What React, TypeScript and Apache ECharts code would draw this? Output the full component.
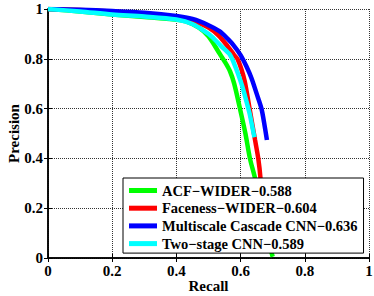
import React, { useEffect, useRef } from "react";
import * as echarts from "echarts";

const seriesNames = [
  "ACF\u2212WIDER\u22120.588",
  "Faceness\u2212WIDER\u22120.604",
  "Multiscale Cascade CNN\u22120.636",
  "Two\u2212stage CNN\u22120.589",
];
const seriesColors = ["#00ff00", "#ff0000", "#0000ff", "#00ffff"];

const acfRecall = [0, 0.1, 0.2, 0.3, 0.4, 0.43, 0.47, 0.5, 0.535, 0.55, 0.567, 0.58, 0.598, 0.615, 0.629, 0.645, 0.66, 0.675, 0.69, 0.7];
const acfPrecision = [1, 0.99, 0.978, 0.968, 0.957, 0.95, 0.925, 0.89, 0.82, 0.79, 0.75, 0.7, 0.6, 0.5, 0.4, 0.32, 0.22, 0.13, 0.05, 0.005];

const facenessRecall = [0, 0.1, 0.2, 0.3, 0.4, 0.45, 0.5, 0.53, 0.56, 0.58, 0.59, 0.603, 0.613, 0.628, 0.645, 0.655, 0.662, 0.668];
const facenessPrecision = [1, 0.996, 0.99, 0.982, 0.968, 0.955, 0.925, 0.895, 0.85, 0.815, 0.8, 0.756, 0.709, 0.6, 0.474, 0.4, 0.32, 0.2];

const mscnnRecall = [0, 0.1, 0.2, 0.3, 0.4, 0.45, 0.5, 0.535, 0.56, 0.577, 0.6, 0.618, 0.634, 0.65, 0.665, 0.675, 0.682];
const mscnnPrecision = [1, 0.997, 0.992, 0.985, 0.972, 0.96, 0.935, 0.91, 0.88, 0.856, 0.815, 0.77, 0.722, 0.66, 0.6, 0.53, 0.474];

const twoStageRecall = [0, 0.1, 0.2, 0.3, 0.4, 0.45, 0.5, 0.515, 0.54, 0.567, 0.58, 0.592, 0.605, 0.618, 0.628, 0.636, 0.643];
const twoStagePrecision = [1, 0.99, 0.978, 0.97, 0.958, 0.94, 0.9, 0.883, 0.85, 0.816, 0.78, 0.74, 0.69, 0.63, 0.58, 0.53, 0.485];

const FONT = "'Liberation Serif', 'Times New Roman', serif";

function pairs(xs: number[], ys: number[]) {
  return xs.map((x, i) => [x, ys[i]]);
}

export default function App() {
  const ref = useRef<HTMLDivElement>(null);
  useEffect(() => {
    if (!ref.current) return;
    const chart = echarts.init(ref.current, undefined, { renderer: "svg" });
    const datasets = [
      pairs(acfRecall, acfPrecision),
      pairs(facenessRecall, facenessPrecision),
      pairs(mscnnRecall, mscnnPrecision),
      pairs(twoStageRecall, twoStagePrecision),
    ];
    const axisLine = { show: true, lineStyle: { color: "#000", width: 1.5 } };
    const axisTick = { show: true, inside: true, length: 4, lineStyle: { color: "#000", width: 1 } };
    const splitLine = { show: true, lineStyle: { color: "#333", type: "dotted", width: 1 } };
    const labelStyle = { fontFamily: FONT, fontWeight: "bold", fontSize: 15, color: "#000" };
    chart.setOption({
      animation: false,
      backgroundColor: "#fff",
      grid: { left: 48, right: 5, top: 9, bottom: 38, containLabel: false, outerBoundsMode: "none" },
      xAxis: [
        {
          type: "value", min: 0, max: 1, interval: 0.2, position: "bottom",
          axisLine, axisTick, splitLine,
          axisLabel: { ...labelStyle, margin: 5 },
          name: "Recall", nameLocation: "middle", nameGap: 20, nameMoveOverlap: false,
          nameTextStyle: { ...labelStyle },
        },
        {
          type: "value", min: 0, max: 1, interval: 0.2, position: "top",
          axisLine, axisTick, splitLine: { show: false }, axisLabel: { show: false },
        },
      ],
      yAxis: [
        {
          type: "value", min: 0, max: 1, interval: 0.2, position: "left",
          axisLine, axisTick, splitLine,
          axisLabel: { ...labelStyle, margin: 5 },
          name: "Precision", nameLocation: "middle", nameGap: 27, nameMoveOverlap: false,
          nameTextStyle: { ...labelStyle },
        },
        {
          type: "value", min: 0, max: 1, interval: 0.2, position: "right",
          axisLine, axisTick, splitLine: { show: false }, axisLabel: { show: false },
        },
      ],
      legend: {
        orient: "vertical",
        left: 123,
        top: 178,
        backgroundColor: "#fff",
        borderColor: "#000",
        borderWidth: 1,
        padding: [5, 6, 2, 6],
        itemWidth: 28,
        itemHeight: 5,
        itemGap: 2.7,
        icon: "rect",
        data: seriesNames,
        textStyle: { fontFamily: FONT, fontWeight: "bold", fontSize: 14.5, color: "#000" },
      },
      series: seriesNames.map((name, i) => ({
        name,
        type: "line",
        data: datasets[i],
        xAxisIndex: 0,
        yAxisIndex: 0,
        showSymbol: false,
        symbol: "none",
        smooth: 0.3,
        color: seriesColors[i],
        lineStyle: { color: seriesColors[i], width: 4.5 },
      })),
    });
    return () => chart.dispose();
  }, []);
  return <div ref={ref} style={{ width: 374, height: 296, position: "absolute", left: 0, top: 0 }} />;
}
